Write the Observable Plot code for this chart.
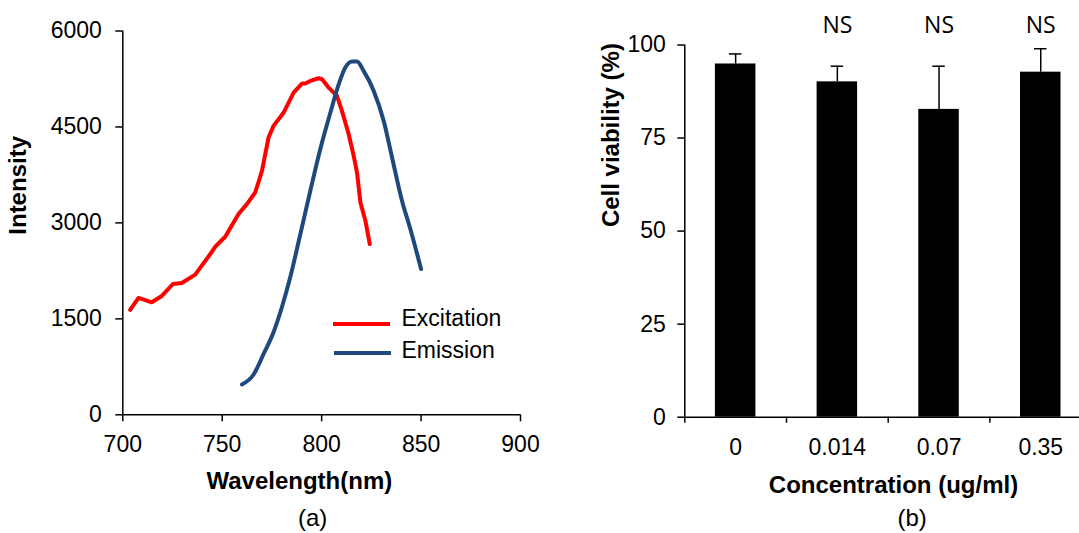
<!DOCTYPE html>
<html>
<head>
<meta charset="utf-8">
<script src="https://cdn.jsdelivr.net/npm/d3@7"></script>
<script src="https://cdn.jsdelivr.net/npm/@observablehq/plot@0.6"></script>
<style>
  html, body { margin: 0; padding: 0; background: #fff; overflow: hidden; width: 1079px; height: 533px; }
  #wrap { position: relative; width: 1079px; height: 533px; overflow: hidden; }
  #left { position: absolute; left: 0; top: 0; width: 540px; height: 533px; }
  #right { position: absolute; left: 540px; top: 0; width: 560px; height: 533px; }
  #left svg, #right svg { max-width: none !important; display: block; }
  .leg { position: absolute; font-family: "Liberation Sans", Arial, sans-serif; font-size: 23px; line-height: 1; color: #000; white-space: nowrap; }
  .legline { position: absolute; height: 4px; }
</style>
</head>
<body>
<div id="wrap">
  <div id="left"></div>
  <div id="right"></div>
  <div id="legend"></div>
</div>
<script>
// ---- Panel (a): spectra ----
const excitationWavelength = [703.7, 707.9, 714.6, 719.6, 725.2, 729.7, 736.4, 744, 746.5, 751.5, 758.2, 762.4, 766.6, 770, 773.3, 775.8, 780.9, 785.9, 790.1, 791.8, 794.3, 798.5, 800.2, 803.5, 807.7, 810.2, 813.6, 816.1, 817.8, 819.5, 822, 824.2];
const excitationIntensity = [1639, 1827, 1759, 1858, 2045, 2061, 2191, 2513, 2628, 2784, 3138, 3294, 3476, 3814, 4335, 4517, 4725, 5037, 5178, 5178, 5220, 5261, 5246, 5116, 4985, 4751, 4387, 4049, 3788, 3320, 3034, 2670];
const emissionWavelength = [759.9, 765.8, 770.8, 775.8, 780, 784.2, 789.3, 794.3, 799.3, 804.4, 808.6, 811.9, 815.3, 817.8, 821.1, 826.2, 831.2, 835.4, 840.4, 844.6, 850];
const emissionIntensity = [474, 630, 952, 1291, 1681, 2149, 2826, 3502, 4153, 4725, 5168, 5428, 5522, 5522, 5376, 5063, 4595, 4023, 3346, 2904, 2279];
const xTicksA = [700, 750, 800, 850, 900];
const yTicksA = [0, 1500, 3000, 4500, 6000];
const seriesNames = ["Excitation", "Emission"];
const seriesColors = ["#ff0000", "#1f497d"];

// ---- Panel (b): cell viability ----
const concentrations = ["0", "0.014", "0.07", "0.35"];
const viability = [94.9, 90.1, 82.7, 92.7];
const viabilityError = [2.7, 4.2, 11.6, 6.3];
const significance = ["", "NS", "NS", "NS"];
const yTicksB = [0, 25, 50, 75, 100];

const FONT = '"Liberation Sans", Arial, sans-serif';

const excitation = excitationWavelength.map((w, i) => ({wl: w, v: excitationIntensity[i]}));
const emission = emissionWavelength.map((w, i) => ({wl: w, v: emissionIntensity[i]}));

const leftW = 540, leftH = 533;
const mLA = 122.3, mRA = 20, mTA = 30.5, mBA = 533 - 414.3;

const plotA = Plot.plot({
  width: leftW, height: leftH,
  marginLeft: mLA, marginRight: mRA, marginTop: mTA, marginBottom: mBA,
  style: {fontFamily: FONT, fontSize: "23px", color: "#000", background: "#fff", overflow: "visible"},
  x: {domain: [700, 900]},
  y: {domain: [0, 6000]},
  marks: [
    Plot.axisX({ticks: xTicksA, tickSize: 7, tickPadding: 14, label: null, fontSize: 23, strokeWidth: 1.5, tickFormat: d => String(d)}),
    Plot.axisY({ticks: yTicksA, tickSize: 7, tickPadding: 14, label: null, fontSize: 23, strokeWidth: 1.5, tickFormat: d => String(d)}),
    Plot.ruleY([0], {stroke: "#000", strokeWidth: 1.5}),
    Plot.ruleX([700], {stroke: "#000", strokeWidth: 1.5}),
    Plot.line(excitation, {x: "wl", y: "v", stroke: seriesColors[0], strokeWidth: 4}),
    Plot.line(emission, {x: "wl", y: "v", stroke: seriesColors[1], strokeWidth: 4, curve: "monotone-x"}),
    Plot.text(["Wavelength(nm)"], {frameAnchor: "bottom", lineAnchor: "bottom", dx: -22.3, dy: 74, fontWeight: "bold", fontSize: 24, fill: "#000"}),
    Plot.text(["(a)"], {frameAnchor: "bottom", lineAnchor: "bottom", dx: -9, dy: 110.7, fontSize: 24, fill: "#000"}),
    Plot.text(["Intensity"], {frameAnchor: "left", lineAnchor: "middle", rotate: -90, dx: -104, dy: 11.8, fontWeight: "bold", fontSize: 24, fill: "#000"})
  ]
});
document.getElementById("left").appendChild(plotA);

// Legend (HTML overlay)
const legend = document.getElementById("legend");
const legRows = [{lineLeft: 333, lineTop: 321.5, textTop: 306.5}, {lineLeft: 334, lineTop: 350.5, textTop: 338.5}];
seriesNames.forEach((name, i) => {
  const ln = document.createElement("div");
  ln.className = "legline";
  ln.style.left = legRows[i].lineLeft + "px";
  ln.style.top = legRows[i].lineTop + "px";
  ln.style.width = "57px";
  ln.style.background = seriesColors[i];
  legend.appendChild(ln);
  const tx = document.createElement("div");
  tx.className = "leg";
  tx.style.left = "401.5px";
  tx.style.top = legRows[i].textTop + "px";
  tx.textContent = name;
  legend.appendChild(tx);
});

// ---- Panel (b) ----
const bars = concentrations.map((c, i) => ({c, v: viability[i], e: viabilityError[i], s: significance[i]}));
const rightW = 560, rightH = 533;
const mLB = 144.3, mRB = 8.9, mTB = 44.5, mBB = 533 - 416.7;
const bw = (rightW - mLB - mRB) / concentrations.length;

const plotB = Plot.plot({
  width: rightW, height: rightH,
  marginLeft: mLB, marginRight: mRB, marginTop: mTB, marginBottom: mBB,
  style: {fontFamily: FONT, fontSize: "23px", color: "#000", background: "#fff", overflow: "visible"},
  x: {type: "band", domain: concentrations, padding: 0, round: false},
  y: {domain: [0, 100]},
  marks: [
    Plot.barY(bars, {x: "c", y: "v", fill: "#000", insetLeft: 30.6, insetRight: 30.6}),
    Plot.ruleX(bars, {x: "c", y1: "v", y2: d => d.v + d.e, stroke: "#000", strokeWidth: 1.5}),
    Plot.tickY(bars, {x: "c", y: d => d.v + d.e, stroke: "#000", strokeWidth: 1.5, insetLeft: 44.6, insetRight: 44.6}),
    Plot.axisY({ticks: yTicksB, tickSize: 7, tickPadding: 12, label: null, fontSize: 23, strokeWidth: 1.5}),
    Plot.axisX({tickSize: 0, tickPadding: 21.3, label: null, fontSize: 23}),
    Plot.axisX({tickSize: 6, tickFormat: () => "", label: null, dx: -bw / 2, strokeWidth: 1.5}),
    Plot.ruleY([0], {stroke: "#000", strokeWidth: 1.5}),
    Plot.ruleX([concentrations[0]], {stroke: "#000", strokeWidth: 1.5, dx: -bw / 2}),
    Plot.text(bars.filter(d => d.s), {x: "c", text: "s", frameAnchor: "top", lineAnchor: "middle", dy: -19.5, fontFamily: '"Open Sans", sans-serif', fontSize: 23, fill: "#000"}),
    Plot.text(["Concentration (ug/ml)"], {frameAnchor: "bottom", lineAnchor: "bottom", dx: 5.3, dy: 76, fontWeight: "bold", fontSize: 24, fill: "#000"}),
    Plot.text(["(b)"], {frameAnchor: "bottom", lineAnchor: "bottom", dx: 24, dy: 108.3, fontSize: 24, fill: "#000"}),
    Plot.text(["Cell viability (%)"], {frameAnchor: "left", lineAnchor: "middle", rotate: -90, dx: -73.7, dy: -4, fontWeight: "bold", fontSize: 24, fill: "#000"})
  ]
});
document.getElementById("right").appendChild(plotB);
</script>
</body>
</html>
